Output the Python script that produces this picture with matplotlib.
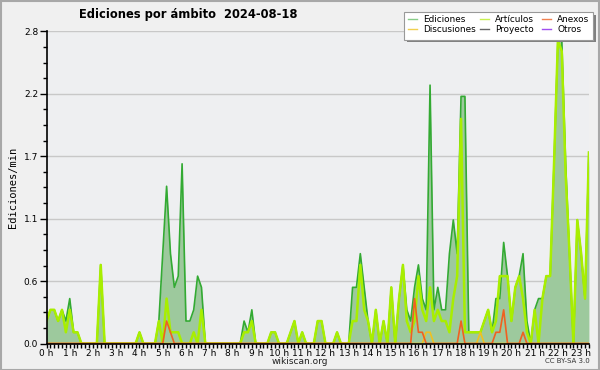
import numpy as np
import matplotlib
matplotlib.use("Agg")
import matplotlib.pyplot as plt
from matplotlib.lines import Line2D
from matplotlib.patches import Rectangle

# 10-minute bins, edits per minute
ediciones = [
    0.2, 0.3, 0.3, 0.2, 0.3, 0.2, 0.4, 0.1, 0.1, 0.0,   # 0-9
    0.0, 0.0, 0.0, 0.0, 0.7, 0.0, 0.0, 0.0, 0.0, 0.0,   # 10-19
    0.0, 0.0, 0.0, 0.0, 0.1, 0.0, 0.0, 0.0, 0.0, 0.2,   # 20-29
    0.8, 1.4, 0.8, 0.5, 0.6, 1.6, 0.2, 0.2, 0.3, 0.6,   # 30-39
    0.5, 0.0, 0.0, 0.0, 0.0, 0.0, 0.0, 0.0, 0.0, 0.0,   # 40-49
    0.0, 0.2, 0.1, 0.3, 0.0, 0.0, 0.0, 0.0, 0.1, 0.1,   # 50-59
    0.0, 0.0, 0.0, 0.1, 0.2, 0.0, 0.1, 0.0, 0.0, 0.0,   # 60-69
    0.2, 0.2, 0.0, 0.0, 0.0, 0.1, 0.0, 0.0, 0.0, 0.5,   # 70-79
    0.5, 0.8, 0.5, 0.2, 0.0, 0.3, 0.0, 0.2, 0.0, 0.5,   # 80-89
    0.0, 0.4, 0.7, 0.3, 0.2, 0.5, 0.7, 0.4, 0.3, 2.3,   # 90-99
    0.3, 0.5, 0.3, 0.3, 0.8, 1.1, 0.8, 2.2, 2.2, 0.1,   # 100-109
    0.1, 0.1, 0.1, 0.2, 0.3, 0.1, 0.4, 0.4, 0.9, 0.6,   # 110-119
    0.2, 0.5, 0.6, 0.8, 0.2, 0.0, 0.3, 0.4, 0.4, 0.6,   # 120-129
    0.6, 1.6, 2.7, 2.7, 1.6, 0.8, 0.0, 1.1, 0.8, 0.4,   # 130-139
    1.7,
]
articulos = [
    0.2, 0.3, 0.3, 0.2, 0.3, 0.1, 0.3, 0.1, 0.1, 0.0,
    0.0, 0.0, 0.0, 0.0, 0.7, 0.0, 0.0, 0.0, 0.0, 0.0,
    0.0, 0.0, 0.0, 0.0, 0.1, 0.0, 0.0, 0.0, 0.0, 0.2,
    0.0, 0.4, 0.1, 0.1, 0.1, 0.0, 0.0, 0.0, 0.1, 0.0,
    0.3, 0.0, 0.0, 0.0, 0.0, 0.0, 0.0, 0.0, 0.0, 0.0,
    0.0, 0.1, 0.1, 0.2, 0.0, 0.0, 0.0, 0.0, 0.1, 0.1,
    0.0, 0.0, 0.0, 0.1, 0.2, 0.0, 0.1, 0.0, 0.0, 0.0,
    0.2, 0.2, 0.0, 0.0, 0.0, 0.1, 0.0, 0.0, 0.0, 0.2,
    0.2, 0.7, 0.3, 0.2, 0.0, 0.3, 0.0, 0.2, 0.0, 0.5,
    0.0, 0.4, 0.7, 0.2, 0.1, 0.2, 0.6, 0.3, 0.2, 0.5,
    0.2, 0.3, 0.2, 0.2, 0.1, 0.4, 0.6, 2.0, 0.1, 0.1,
    0.1, 0.1, 0.1, 0.2, 0.3, 0.1, 0.2, 0.6, 0.6, 0.6,
    0.2, 0.5, 0.6, 0.4, 0.1, 0.0, 0.3, 0.0, 0.4, 0.6,
    0.6, 1.6, 2.7, 2.6, 1.5, 0.8, 0.0, 1.1, 0.8, 0.4,
    1.7,
]
# sparse series: {bin: value}
anexos = {31: 0.2, 32: 0.1, 95: 0.4, 96: 0.1, 97: 0.1, 107: 0.2,
          116: 0.1, 117: 0.1, 118: 0.3, 123: 0.1}
discusiones = {98: 0.1, 99: 0.1, 112: 0.1}

hour_labels = [f"{h} h" for h in range(24)]
TITLE = "Ediciones por ámbito  2024-08-18"
YMAX = 2.7778

n = len(ediciones)
x = np.arange(n)


def dense(d):
    v = np.zeros(n)
    for k, val in d.items():
        v[k] = val
    return v


plt.rcParams["font.family"] = "DejaVu Sans"
fig = plt.figure(figsize=(6, 3.7), dpi=100, facecolor="#f0f0f0")
ax = fig.add_axes([0.0775, 0.0716, 0.904, 0.8433])
ax.set_facecolor("#eeeff1")

ax.fill_between(x, ediciones, color="#9dc99d", lw=0, zorder=2)
ax.plot(x, ediciones, color="#33aa33", lw=1.2, zorder=3)
ax.plot(x, articulos, color="#a8ee00", lw=1.8, zorder=4)
ax.plot(x, dense(discusiones), color="#f0c020", lw=1.2, zorder=5)
ax.plot(x, dense(anexos), color="#f06020", lw=1.2, zorder=5)

ax.set_xlim(0, n - 1)
ax.set_ylim(0, YMAX)
yt = np.linspace(0, YMAX, 6)
ax.set_yticks(yt)
ax.set_yticklabels([f"{v:.1f}" for v in yt])
ax.set_yticks(np.linspace(0, YMAX, 21), minor=True)
ax.set_xticks(np.arange(0, 24) * 6)
ax.set_xticklabels(hour_labels)
ax.set_xticks(np.arange(0, n), minor=True)
ax.tick_params(axis="both", labelsize=6.5, color="black", pad=1)
ax.tick_params(axis="y", which="major", length=5, width=1)
ax.tick_params(axis="y", which="minor", length=3, width=1)
ax.tick_params(axis="x", which="both", length=3, width=1)
ax.grid(axis="y", color="#c8c8c8", lw=1, zorder=1)
ax.set_axisbelow(True)
for s in ["top", "right"]:
    ax.spines[s].set_visible(False)
for s in ["left", "bottom"]:
    ax.spines[s].set_zorder(10)
    ax.spines[s].set_linewidth(1.2)

ax.set_ylabel("Ediciones/min", family="DejaVu Sans Mono", fontsize=7.5, labelpad=4)
fig.text(0.313, 0.962, TITLE, fontsize=8.3, fontweight="bold", ha="center", va="center")
fig.text(0.5, 0.024, "wikiscan.org", fontsize=6.5, ha="center", va="center", color="#222222")
fig.text(0.983, 0.024, "CC BY-SA 3.0", fontsize=5, ha="right", va="center", color="#333333")

# legend box with shadow, drawn in pixel coords
def px(xp, yp):
    return xp / 600, 1 - yp / 370

fig.patches.append(Rectangle(px(407, 42), 189 / 600, 27 / 370, transform=fig.transFigure,
                             facecolor="#808080", edgecolor="none", zorder=5))
fig.patches.append(Rectangle(px(404, 39.5), 189 / 600, 27 / 370, transform=fig.transFigure,
                             facecolor="white", edgecolor="#999999", lw=0.8, zorder=6))
legend_items = [
    ("Ediciones", "#88cc88", 408, 19), ("Artículos", "#c8f050", 480, 19), ("Anexos", "#f08050", 542, 19),
    ("Discusiones", "#f0d050", 408, 29), ("Proyecto", "#666666", 480, 29), ("Otros", "#a050f0", 542, 29),
]
for label, col, lx, ly in legend_items:
    x0, y0 = px(lx, ly)
    x1, _ = px(lx + 9, ly)
    fig.lines.append(Line2D([x0, x1], [y0, y0], transform=fig.transFigure, color=col, lw=1, zorder=7))
    fig.text(px(lx + 15, ly)[0], y0, label, fontsize=6.4, va="center", ha="left", zorder=8)

fig.patches.append(Rectangle((0.001, 0.001), 0.997, 0.996, transform=fig.transFigure,
                             facecolor="none", edgecolor="#a8a8a8", lw=1.5, zorder=0))

fig.savefig("out.png", dpi=100, facecolor=fig.get_facecolor())
